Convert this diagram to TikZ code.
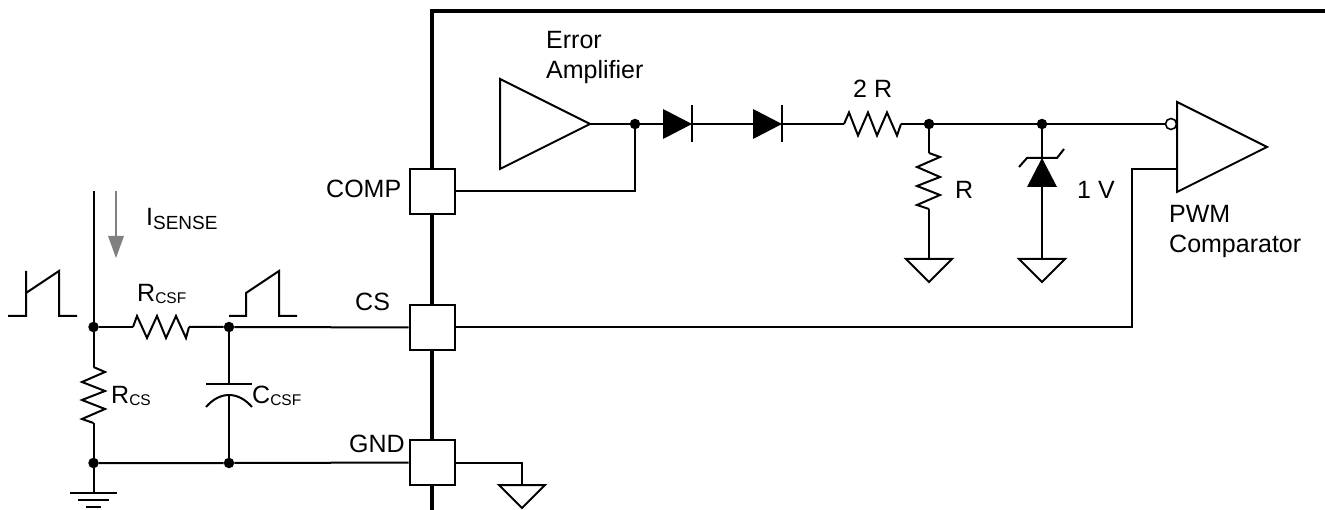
\documentclass[tikz,border=0pt]{standalone}
\usepackage{fontspec}
\setmainfont{Liberation Sans}
\usetikzlibrary{positioning}
\tikzset{
  wire/.style={line width=2pt,line join=miter},
  chipline/.style={line width=4pt},
  pad/.style={rectangle,draw,fill=white,line width=2pt,minimum size=45pt,inner sep=0pt},
  dot/.style={circle,fill=black,minimum size=10.5pt,inner sep=0pt},
  bubble/.style={circle,draw,fill=white,line width=1.6pt,minimum size=11pt,inner sep=0pt},
  lbl/.style={anchor=base west,inner sep=0pt,font=\fontsize{25}{30}\selectfont},
}
\newcommand{\subtxt}[1]{\raisebox{-2pt}{\fontsize{15.5}{16}\selectfont #1}}
\newcommand{\gndtri}[1]{\draw [wire,fill=white] (#1) -- ++(-23,0) -- ++(23,23) -- ++(23,-23) -- cycle;}
\begin{document}
\begin{tikzpicture}[x=1pt,y=-1pt]
        \useasboundingbox (0,0) rectangle (1325,510);
        % chip outline
        \coordinate (chipend) at (1325,11.5);
        \coordinate (chipbot) at (432,510);
        \draw [chipline] (chipend) -| (chipbot);
        % pins
        \node (comp) at (432,191.5) [pad] {};
        \node (cs) at (432,327.5) [pad] {};
        \node (gnd) at (432,462.5) [pad] {};
        % junctions
        \node (j1) at (93.5,327) [dot] {};
        \node (j2) at (229,327) [dot] {};
        \node (j3) at (93.5,463) [dot] {};
        \node (j4) at (229,463) [dot] {};
        \node (j5) at (635,124) [dot] {};
        \node (j6) at (929,124) [dot] {};
        \node (j7) at (1042,124) [dot] {};
        % amplifiers
        \coordinate (amptip) at (590,124);
        \draw [wire] (500,79) -- (amptip) -- (500,169) -- cycle;
        \coordinate (cmptip) at (1267,147);
        \draw [wire] (1177,102) -- (cmptip) -- (1177,192) -- cycle;
        \node (inv) at (1171,124) [bubble] {};
        \coordinate (cmpin) at (1177,169);
        % diodes
        \coordinate (d1a) at (663,124);
        \coordinate (d1k) at (692,124);
        \coordinate (d2a) at (753,124);
        \coordinate (d2k) at (782,124);
        \fill (d1a) ++(0,-15) -- (d1k) -- ++(-29,15) -- cycle;
        \draw [wire] (692,105) -- (692,142);
        \fill (d2a) ++(0,-15) -- (d2k) -- ++(-29,15) -- cycle;
        \draw [wire] (782,105) -- (782,142);
        % resistors
        \coordinate (r2a) at (844,124);
        \coordinate (r2b) at (901,124);
        \draw [wire] (r2a) -- (849,112.5) -- (858,135.5) -- (868,112.5) -- (877,135.5) -- (887,112.5) -- (897,135.5) -- (r2b);
        \coordinate (r1a) at (929,153);
        \coordinate (r1b) at (929,209);
        \draw [wire] (r1a) -- (940,157) -- (917,167) -- (940,177) -- (917,186) -- (940,195) -- (917,205) -- (r1b);
        \coordinate (rcsfa) at (133,327);
        \coordinate (rcsfb) at (189,327);
        \draw [wire] (rcsfa) -- (137,316) -- (147,338) -- (157,316) -- (166,338) -- (176,316) -- (186,338) -- (rcsfb);
        \coordinate (rcsa) at (93.5,367);
        \coordinate (rcsb) at (93.5,423);
        \draw [wire] (rcsa) -- (105,372) -- (82,382) -- (105,391) -- (82,400) -- (105,409) -- (82,419) -- (rcsb);
        % zener
        \coordinate (ztip) at (1042,158);
        \coordinate (zbase) at (1042,187);
        \fill (ztip) -- (1057,187) -- (1027,187) -- cycle;
        \draw [wire] (1019,167) -- (1027,158) -- (1057,158) -- (1064,149);
        % capacitor
        \coordinate (ctop) at (229,384);
        \coordinate (cbot) at (229,395);
        \draw [wire] (206,384) -- (252,384);
        \draw [wire] (206,407) .. controls (213,399) and (221,395) .. (cbot) .. controls (237,395) and (245,399) .. (252,407);
        % grounds
        \coordinate (g1) at (929,259);
        \coordinate (g2) at (1042,259);
        \coordinate (g3) at (522,485);
        \gndtri{g1}
        \gndtri{g2}
        \gndtri{g3}
        \coordinate (earth) at (93.5,493);
        \draw [wire] (70,493) -- (117,493);
        \draw [wire] (78,500) -- (109,500);
        \draw [wire] (86,507) -- (101,507);
        % connections
        \coordinate (itop) at (93.5,191);
        \draw [wire] (itop) -- (j1) -- (rcsfa);
        \draw [wire] (rcsfb) -- (j2) -- (cs);
        \draw [wire] (j1) -- (rcsa);
        \draw [wire] (rcsb) -- (j3) -- (earth);
        \draw [wire] (j3) -- (j4) -- (gnd);
        \draw [wire] (j2) -- (ctop);
        \draw [wire] (cbot) -- (j4);
        \draw [wire] (gnd) -| (g3);
        \draw [wire] (comp) -| (j5);
        \draw [wire] (amptip) -- (j5) -- (d1a);
        \draw [wire] (d1k) -- (d2a);
        \draw [wire] (d2k) -- (r2a);
        \draw [wire] (r2b) -- (j6) -- (j7) -- (inv);
        \draw [wire] (j6) -- (r1a);
        \draw [wire] (r1b) -- (g1);
        \draw [wire] (j7) -- (ztip);
        \draw [wire] (zbase) -- (g2);
        \coordinate (csbend) at (1132,327.5);
        \draw [wire] (cs) -- (csbend) |- (cmpin);
        % waveforms
        \draw [wire] (8,316) -- (26,316) -- (26,271) -- (26,293) -- (59,271) -- (59,316) -- (77,316);
        \draw [wire] (229,316) -- (246,316) -- (246,293) -- (279,271) -- (279,316) -- (297,316);
        % sense arrow
        \coordinate (ia) at (116,191);
        \coordinate (ib) at (116,236);
        \draw [line width=2pt,gray] (ia) -- (ib);
        \fill [gray] (108,236) -- (124,236) -- (116,258) -- cycle;
        % labels
        \node (lerr) at (546,49) [lbl] {Error};
        \node (lamp) at (546,79) [lbl] {Amplifier};
        \node (lcomp) at (326,198) [lbl] {COMP};
        \node (lcs) at (355,311) [lbl] {CS};
        \node (lgnd) at (349,452) [lbl] {GND};
        \node (l2r) at (853,98) [lbl] {2 R};
        \node (lr) at (955,199) [lbl] {R};
        \node (l1v) at (1077,199) [lbl] {1 V};
        \node (lpwm) at (1169,223) [lbl] {PWM};
        \node (lcmp) at (1169,253) [lbl] {Comparator};
        \node (lisense) at (146,226) [lbl] {I\raisebox{-4pt}{\fontsize{19}{20}\selectfont SENSE}};
        \node (lrcsf) at (137,302) [lbl] {R\subtxt{CSF}};
        \node (lrcs) at (111,403) [lbl] {R\subtxt{CS}};
        \node (lccsf) at (252,403) [lbl] {C\subtxt{CSF}};
\end{tikzpicture}
\end{document}
